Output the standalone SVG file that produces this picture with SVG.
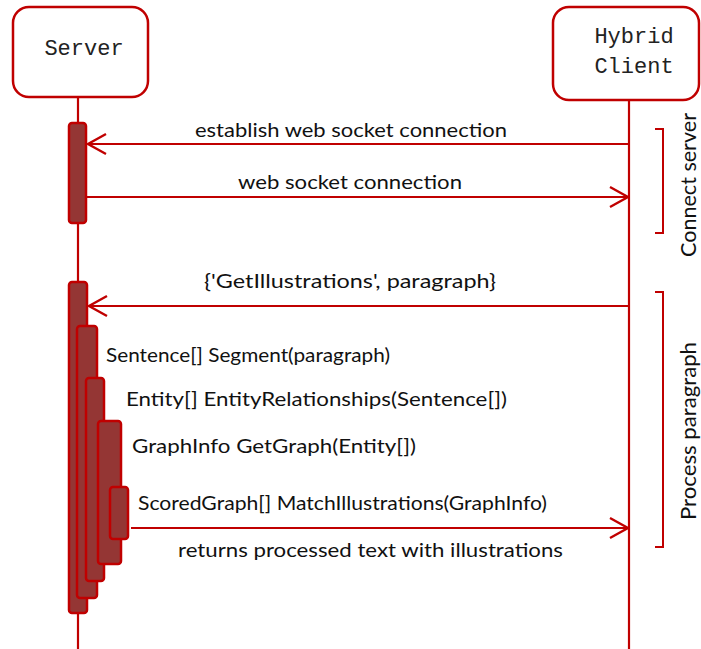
<svg xmlns="http://www.w3.org/2000/svg" width="701" height="649" viewBox="0 0 701 649">
  <style>
    .actor { fill: #ffffff; stroke: #c00000; stroke-width: 2.5; }
    .actor-label { font-family: "Liberation Mono", "Courier New", monospace; font-size: 22px; fill: #222222; text-anchor: middle; }
    .lifeline { stroke: #c00000; stroke-width: 2.2; fill: none; }
    .activation { fill: #943634; stroke: #c00000; stroke-width: 2.5; }
    .msg { stroke: #c00000; stroke-width: 2.2; fill: none; }
    .label { font-family: Lato, "Liberation Sans", Arial, sans-serif; font-size: 20px; fill: #111111; }
    .group-label { font-family: Lato, "Liberation Sans", Arial, sans-serif; font-size: 22px; fill: #111111; text-anchor: middle; }
    .bracket { stroke: #c00000; stroke-width: 2; fill: none; }
  </style>
  <defs>
    <marker id="open-arrow" viewBox="-21 -12 23 24" refX="0" refY="0" markerWidth="23" markerHeight="24" markerUnits="userSpaceOnUse" orient="auto">
      <path d="M-18,-10 L0,0 L-18,10" fill="none" stroke="#c00000" stroke-width="2.4"/>
    </marker>
  </defs>

  <!-- lifelines -->
  <g id="lifelines">
    <line class="lifeline" x1="78" y1="97" x2="78" y2="649"/>
    <line class="lifeline" x1="629" y1="100" x2="629" y2="649"/>
  </g>

  <!-- participants -->
  <g id="server">
    <rect class="actor" x="13" y="7" width="135" height="90" rx="16"/>
    <text class="actor-label" x="84" y="55">Server</text>
  </g>
  <g id="hybrid-client">
    <rect class="actor" x="553" y="7" width="146" height="93" rx="16"/>
    <text class="actor-label" x="634" y="43">Hybrid</text>
    <text class="actor-label" x="634" y="73">Client</text>
  </g>

  <!-- activation bars on the server lifeline -->
  <g id="activation-connect">
    <rect class="activation" x="69" y="123" width="17" height="100" rx="3"/>
  </g>
  <g id="activation-request">
    <rect class="activation" x="69" y="282" width="18" height="331" rx="3"/>
  </g>
  <g id="activation-segment">
    <rect class="activation" x="77" y="326" width="20" height="272" rx="3"/>
  </g>
  <g id="activation-relationships">
    <rect class="activation" x="86" y="378" width="18" height="203" rx="3"/>
  </g>
  <g id="activation-graph">
    <rect class="activation" x="98" y="421" width="23" height="143" rx="3"/>
  </g>
  <g id="activation-match">
    <rect class="activation" x="110" y="487" width="18" height="52" rx="3"/>
  </g>

  <!-- messages -->
  <g id="connectors">
    <line class="msg" x1="629" y1="144" x2="88" y2="144" marker-end="url(#open-arrow)"/>
    <line class="msg" x1="86" y1="197" x2="628" y2="197" marker-end="url(#open-arrow)"/>
    <line class="msg" x1="629" y1="306" x2="89" y2="306" marker-end="url(#open-arrow)"/>
    <line class="msg" x1="131" y1="528" x2="628" y2="528" marker-end="url(#open-arrow)"/>
  </g>

  <!-- message and call labels -->
  <g id="labels">
    <text class="label" x="195" y="137" textLength="312" lengthAdjust="spacingAndGlyphs">establish web socket connection</text>
    <text class="label" x="238" y="189" textLength="224" lengthAdjust="spacingAndGlyphs">web socket connection</text>
    <text class="label" x="204" y="288" textLength="292" lengthAdjust="spacingAndGlyphs">{'GetIllustrations', paragraph}</text>
    <text class="label" x="106" y="362" textLength="284" lengthAdjust="spacingAndGlyphs">Sentence[] Segment(paragraph)</text>
    <text class="label" x="126" y="406" textLength="381" lengthAdjust="spacingAndGlyphs">Entity[] EntityRelationships(Sentence[])</text>
    <text class="label" x="132" y="453" textLength="284" lengthAdjust="spacingAndGlyphs">GraphInfo GetGraph(Entity[])</text>
    <text class="label" x="138" y="510" textLength="409" lengthAdjust="spacingAndGlyphs">ScoredGraph[] MatchIllustrations(GraphInfo)</text>
    <text class="label" x="178" y="557" textLength="385" lengthAdjust="spacingAndGlyphs">returns processed text with illustrations</text>
  </g>

  <!-- phase brackets -->
  <g id="phase-connect">
    <path class="bracket" d="M655,129 H663 V233 H655"/>
    <text class="group-label" transform="translate(696,185) rotate(-90)" textLength="144" lengthAdjust="spacingAndGlyphs">Connect server</text>
  </g>
  <g id="phase-process">
    <path class="bracket" d="M655,292 H663 V547 H655"/>
    <text class="group-label" transform="translate(696,431) rotate(-90)" textLength="178" lengthAdjust="spacingAndGlyphs">Process paragraph</text>
  </g>
</svg>
